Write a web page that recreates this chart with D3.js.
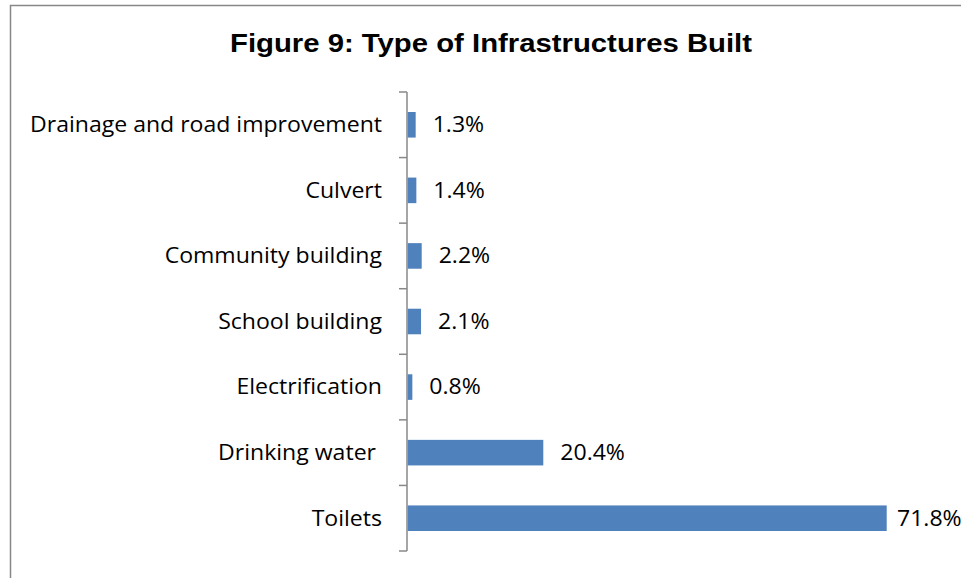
<!DOCTYPE html>
<html>
<head>
<meta charset="utf-8">
<script src="https://cdn.jsdelivr.net/npm/d3@7"></script>
<style>
  html, body { margin: 0; padding: 0; background: #fff; }
  svg { display: block; }
</style>
</head>
<body>
<svg id="chart" width="961" height="578"></svg>
<script>
// Infrastructure types, top to bottom, with their share of all projects (%)
const categories = [
  "Drainage and road improvement",
  "Culvert",
  "Community building",
  "School building",
  "Electrification",
  "Drinking water ",
  "Toilets"
];
const shares = [1.3, 1.4, 2.2, 2.1, 0.8, 20.4, 71.8];
const titleText = "Figure 9: Type of Infrastructures Built";

const W = 961, H = 578;
const plot = { left: 407, top: 92, bottom: 551 };
const labelFont = "'Open Sans', 'Noto Sans', sans-serif";
const labelSize = 21.5;
const longestLabelWidth = 352; // width the longest category label is fitted to

const svg = d3.select("#chart");

// chart frame (extends past the right and bottom edges)
svg.append("rect")
  .attr("x", 10.5).attr("y", 5.5)
  .attr("width", W + 20).attr("height", H + 20)
  .attr("fill", "#fff")
  .attr("stroke", "#888").attr("stroke-width", 1.5);

// title
svg.append("text")
  .attr("x", 491).attr("y", 52)
  .attr("text-anchor", "middle")
  .attr("font-family", "'Liberation Sans', Arial, sans-serif")
  .attr("font-weight", "bold")
  .attr("font-size", 26.5)
  .attr("textLength", 522)
  .attr("lengthAdjust", "spacingAndGlyphs")
  .text(titleText);

const data = categories.map((c, i) => ({ cat: c, val: shares[i] }));

const y = d3.scaleBand()
  .domain(categories)
  .range([plot.top, plot.bottom])
  .paddingInner(0.61)
  .paddingOuter(0.305);

const x = d3.scaleLinear()
  .domain([0, 71.8])
  .range([plot.left, 886.7]);

// category axis with ticks between the bands
const band = (plot.bottom - plot.top) / categories.length;
const axisG = svg.append("g");
axisG.append("line")
  .attr("x1", plot.left).attr("x2", plot.left)
  .attr("y1", plot.top).attr("y2", plot.bottom)
  .attr("stroke", "#888").attr("stroke-width", 1.5);
axisG.selectAll("line.tick")
  .data(d3.range(categories.length + 1))
  .join("line")
  .attr("class", "tick")
  .attr("x1", plot.left - 8).attr("x2", plot.left)
  .attr("y1", i => plot.top + i * band)
  .attr("y2", i => plot.top + i * band)
  .attr("stroke", "#888").attr("stroke-width", 1.5);

const catLabels = axisG.selectAll("text.cat")
  .data(data)
  .join("text")
  .attr("class", "cat")
  .attr("x", 382)
  .attr("y", d => y(d.cat) + y.bandwidth() / 2)
  .attr("dy", "0.34em")
  .attr("text-anchor", "end")
  .attr("font-family", labelFont)
  .attr("font-size", labelSize)
  .attr("fill", "#000")
  .style("white-space", "pre")
  .text(d => d.cat);

// bars
svg.selectAll("rect.bar")
  .data(data)
  .join("rect")
  .attr("class", "bar")
  .attr("x", plot.left + 0.75)
  .attr("y", d => y(d.cat))
  .attr("width", d => x(d.val) - plot.left - 0.75)
  .attr("height", y.bandwidth())
  .attr("fill", "#4f81bd");

// value labels
const valLabels = svg.selectAll("text.val")
  .data(data)
  .join("text")
  .attr("class", "val")
  .attr("x", d => Math.min(x(d.val) + 17, 897))
  .attr("y", d => y(d.cat) + y.bandwidth() / 2)
  .attr("dy", "0.34em")
  .attr("font-family", labelFont)
  .attr("font-size", labelSize)
  .attr("fill", "#000")
  .text(d => d.val.toFixed(1) + "%");

// widen the label face slightly so the text runs as wide as a Calibri-style face
const widest = d3.max(catLabels.nodes(), n => n.getComputedTextLength());
const stretch = longestLabelWidth / widest;
[catLabels, valLabels].forEach(sel => sel.each(function () {
  const len = this.getComputedTextLength();
  d3.select(this)
    .attr("textLength", len * stretch)
    .attr("lengthAdjust", "spacingAndGlyphs");
}));
</script>
</body>
</html>
